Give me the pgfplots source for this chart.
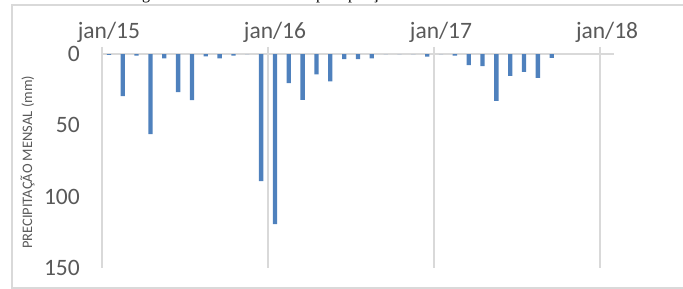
\documentclass[border=0pt]{standalone}
\usepackage{fontspec}
\setmainfont{Carlito}
\newfontfamily\capfont{Liberation Serif}
\usepackage{pgfplots}
\pgfplotsset{compat=1.18}
\definecolor{barblue}{RGB}{79,129,189}
\definecolor{gridgray}{RGB}{217,217,217}
\definecolor{labgray}{RGB}{89,89,89}
\begin{document}
\begin{tikzpicture}
\useasboundingbox (-102bp,-21bp) rectangle (581bp,268bp);
\begin{scope}
\clip (-102bp,-21bp) rectangle (581bp,268bp);
\node[anchor=base west, inner sep=0pt, font=\capfont\fontsize{16bp}{18bp}\selectfont] at (26.6bp,268bp) {Figura 5 – Totais mensais de precipitação};
\draw[gridgray, line width=1.2bp] (-90bp,-20bp) rectangle (600bp,263bp);
\end{scope}
\begin{axis}[at={(0,0)}, anchor=south west, scale only axis,
  width=512bp, height=221bp,
  xmin=0, xmax=37, ymin=-5, ymax=150, y dir=reverse,
  axis line style={draw=none},
  xtick={0,12,24,36}, xticklabels={jan/15,jan/16,jan/17,jan/18},
  xticklabel pos=right,
  ytick={0,50,100,150},
  tick style={draw=none}, major tick length=0pt,
  xmajorgrids, grid style={gridgray, line width=2bp},
  /pgf/number format/assume math mode=true,
  xticklabel style={font=\fontsize{23.5bp}{28bp}\selectfont, text=labgray, inner sep=0pt, anchor=south, xshift=6.9bp, yshift=4bp},
  yticklabel style={font=\fontsize{23.5bp}{28bp}\selectfont, text=labgray, inner sep=0pt, anchor=east, xshift=-22bp},
  clip=false,
]
\draw[gridgray, line width=2bp] (axis cs:0,0) -- (axis cs:37,0);
\addplot[ybar, bar width=4.3bp, fill=barblue, draw=none] coordinates {
(0.5,0.5) (1.5,29.4) (2.5,1) (3.5,56.1) (4.5,3) (5.5,26.6) (6.5,32.2) (7.5,1.5) (8.5,3) (9.5,1) (10.5,0) (11.5,89)
(12.5,119.2) (13.5,20.3) (14.5,32) (15.5,14.2) (16.5,19.1) (17.5,3.5) (18.5,3.5) (19.5,3) (20.5,0) (21.5,0) (22.5,0) (23.5,1.8)
(24.5,0) (25.5,1.1) (26.5,7.7) (27.5,8.4) (28.5,32.7) (29.5,15.2) (30.5,12.4) (31.5,16.6) (32.5,2.6)
};
\end{axis}
\node[rotate=90, text=labgray, font=\fontsize{14.5bp}{17bp}\selectfont] at (-74.5bp,105.5bp) {PRECIPITAÇÃO MENSAL (mm)};
\end{tikzpicture}
\end{document}
